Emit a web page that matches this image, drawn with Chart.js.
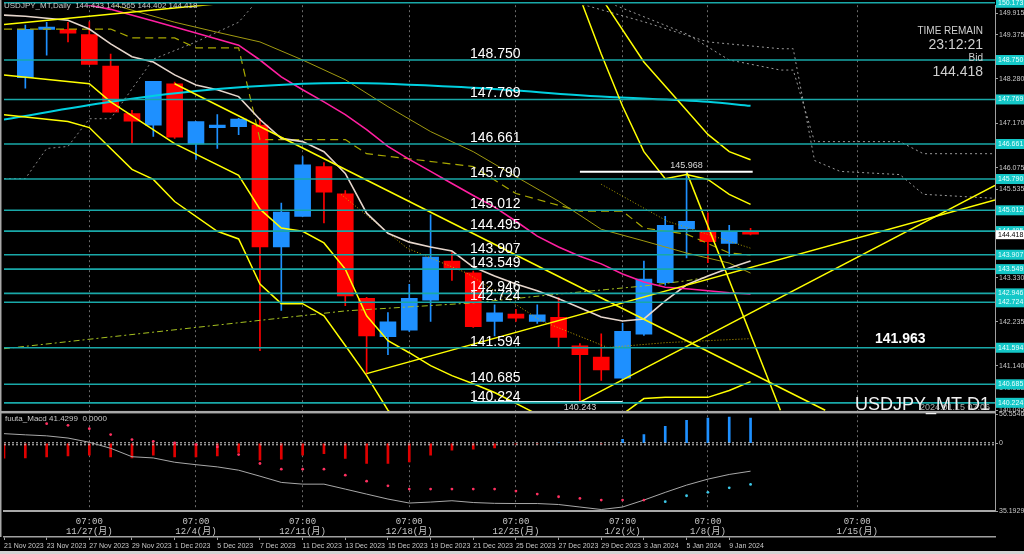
<!DOCTYPE html>
<html>
<head>
<meta charset="utf-8">
<script src="https://cdn.jsdelivr.net/npm/chart.js@4"></script>
<style>
  html, body { margin: 0; padding: 0; background: #000; overflow: hidden; }
</style>
</head>
<body>
<canvas id="chart" width="1024" height="554"></canvas>
<script>
// USDJPY_MT Daily, 21 Nov 2023 .. 10 Jan 2024 (first bar off screen)
const DATES = ['21 Nov 2023', '22 Nov 2023', '23 Nov 2023', '24 Nov 2023', '27 Nov 2023', '28 Nov 2023',
  '29 Nov 2023', '30 Nov 2023', '1 Dec 2023', '4 Dec 2023', '5 Dec 2023', '6 Dec 2023', '7 Dec 2023',
  '8 Dec 2023', '11 Dec 2023', '12 Dec 2023', '13 Dec 2023', '14 Dec 2023', '15 Dec 2023', '18 Dec 2023',
  '19 Dec 2023', '20 Dec 2023', '21 Dec 2023', '22 Dec 2023', '25 Dec 2023', '26 Dec 2023', '27 Dec 2023',
  '28 Dec 2023', '29 Dec 2023', '2 Jan 2024', '3 Jan 2024', '4 Jan 2024', '5 Jan 2024', '8 Jan 2024',
  '9 Jan 2024', '10 Jan 2024']
const DATE_TICKS = [0, 2, 4, 6, 8, 10, 12, 14, 16, 18, 20, 22, 24, 26, 28, 30, 32, 34]
const WEEK_POS = [4, 9, 14, 19, 24, 29, 33, 40]
const WEEK_TEXT = ['11/27(月)', '12/4(月)', '12/11(月)', '12/18(月)', '12/25(月)', '1/2(火)', '1/8(月)', '1/15(月)']

const OPEN = [null, 148.31, 149.51, 149.51, 149.38, 148.60, 147.42, 147.13, 148.16, 146.66, 147.07, 147.09,
  147.13, 144.10, 144.86, 146.10, 145.42, 142.82, 141.87, 142.03, 142.78, 143.75, 143.46, 142.25, 142.43,
  142.25, 142.35, 141.64, 141.36, 140.84, 141.93, 143.21, 144.55, 144.49, 144.19, 144.433]
const HIGH = [null, 149.62, 149.69, 149.69, 149.70, 148.90, 147.50, 148.22, 148.20, 147.22, 147.39, 147.30,
  147.30, 145.19, 146.35, 146.20, 145.50, 142.85, 142.47, 143.17, 144.90, 143.96, 143.50, 142.66, 142.55,
  142.66, 142.84, 141.70, 141.94, 142.20, 143.75, 144.86, 145.968, 144.95, 144.64, 144.565]
const LOW = [null, 148.05, 148.87, 149.20, 148.64, 147.45, 146.68, 146.85, 146.80, 146.28, 146.55, 146.89,
  141.52, 142.52, 144.86, 144.70, 142.64, 140.94, 141.42, 142.00, 142.25, 143.27, 142.10, 141.89, 142.25,
  142.20, 141.60, 140.243, 140.78, 140.80, 141.90, 143.15, 143.83, 143.71, 143.87, 144.402]
const CLOSE = [null, 149.51, 149.57, 149.42, 148.64, 147.45, 147.23, 148.22, 146.83, 147.22, 147.13, 147.28,
  144.10, 144.97, 146.14, 145.46, 142.88, 141.89, 142.24, 142.82, 143.85, 143.57, 142.12, 142.46, 142.33,
  142.41, 141.85, 141.42, 141.04, 142.00, 143.30, 144.64, 144.74, 144.23, 144.49, 144.418]

// horizontal levels and price scale
const LEVELS = [150.173, 148.750, 147.769, 146.661, 145.790, 145.012, 144.495, 143.907, 143.549, 142.946,
  142.724, 141.594, 140.685, 140.224]
const Y_TICKS = [149.915, 149.375, 148.280, 147.170, 146.075, 145.535, 143.330, 142.235, 141.140, 140.585, 140.045]

// indicator lines [bar index, price]
const MA_WHITE = [149.865, 149.84, 149.79, 149.74, 149.52, 149.15, 148.83, 148.70, 148.38, 148.13, 148.01,
  147.84, 147.27, 146.80, 146.72, 146.47, 145.93, 144.94, 144.44, 144.22, 144.10, 144.00, 143.60, 143.38,
  143.18, 143.01, 142.81, 142.59, 142.36, 142.26, 142.31, 142.76, 143.16, 143.38, 143.58, 143.75]
const MA_CYAN = [[0, 147.27], [5, 147.71], [9, 147.98], [14, 148.16], [16, 148.18], [22, 148.06], [28, 147.84],
  [33, 147.71], [35, 147.61]]
const MA_PINK = [[0, 150.45], [3, 150.19], [4, 150.11], [5, 150.01], [7, 149.72], [9, 149.42], [11, 149.12],
  [12, 148.75], [13, 148.33], [14, 148.01], [15, 147.71], [16, 147.39], [17, 147.02], [18, 146.60],
  [19, 146.28], [20, 145.98], [21, 145.68], [22, 145.38], [23, 145.09], [24, 144.74], [25, 144.37],
  [26, 144.10], [27, 143.87], [28, 143.68], [29, 143.43], [30, 143.23], [31, 143.10], [32, 143.06],
  [33, 143.01], [34, 142.96], [35, 142.93]]
const MA_OLIVE = [[4, 150.3], [6, 149.99], [8, 149.69], [10, 149.44], [12, 149.20], [14, 148.75], [16, 148.26],
  [18, 147.59], [20, 146.97], [22, 146.47], [24, 145.85], [26, 145.24], [28, 144.54], [30, 144.25],
  [32, 143.95], [34, 143.70], [35, 143.45]]
const KIJUN = [[0, 149.52], [5, 149.52], [6, 149.30], [8, 149.30], [9, 149.05], [11, 149.05], [12, 146.77],
  [16, 146.77], [17, 146.42], [22, 146.10], [24, 145.43], [27, 144.99], [29, 144.99], [30, 144.57],
  [32, 144.42], [34, 143.95], [35, 143.90]]
const MA_LONG = [[0, 141.57], [16, 142.51], [22, 142.71], [26, 142.93], [30, 143.13], [32, 143.26], [33, 143.35]]
const DOTTED_LOW = [[15.8, 145.41], [18.9, 144.07], [21.7, 143.45], [25.2, 142.26], [28.3, 141.60], [31, 141.72],
  [35, 141.82]]
const DOTTED_HIGH = [[28, 145.66], [31.1, 144.74], [35, 144.07]]
const BAND_A = [[0, 148.38], [4, 148.16], [5, 147.71], [8, 146.67], [11, 145.88], [12, 145.04], [13, 144.57],
  [14, 144.49], [15, 144.20], [16, 143.55], [17, 142.39], [18, 141.77], [19, 141.47], [20, 141.15],
  [21, 140.90], [22, 140.70], [23, 140.48], [24, 140.21], [25, 139.94], [29, 139.94], [30, 140.33],
  [31, 140.36], [32, 140.36], [33, 140.36], [34, 140.53], [35, 140.75]]
const BAND_B = [[0, 147.39], [3, 147.22], [4, 147.07], [6, 146.03], [7, 145.78], [8, 145.23], [10, 144.49],
  [11, 144.30], [12, 143.18], [13, 142.69], [14, 142.69], [15, 142.39], [16, 141.65], [17, 140.90],
  [18, 140.04], [19, 139.54]]
const BAND_C = [[27, 150.3], [28, 148.9], [29, 147.6], [30, 146.47], [31, 145.80], [32, 145.90], [33, 145.78],
  [34, 145.41], [35, 145.16]]
const BAND_D = [[28, 150.3], [30, 148.7], [32, 147.5], [33, 146.9], [34, 146.47], [35, 146.27]]
const SPAN_A = [[26, 150.3], [30, 149.7], [33, 149.2], [36.4, 149.03], [37, 149.03], [38, 146.25], [39.2, 145.98],
  [42, 145.90], [43.1, 145.41], [46.46, 145.31]]
const SPAN_B = [[28, 150.25], [32, 149.4], [34, 148.75], [36.4, 148.50], [37, 148.50], [38, 146.72], [42, 146.72],
  [43.1, 146.42], [46.46, 146.42]]
const SPAN_LEFT = [[0, 145.80], [1, 145.80], [2, 146.55], [3, 146.60], [4, 147.29], [5, 147.29], [7, 148.77],
  [9, 149.20], [11, 149.69], [12, 150.3]]

// trend lines
const TRENDS = [
  [[0, 149.63], [12, 150.25]],
  [[8, 148.16], [38.5, 140.04]],
  [[32, 145.968], [36.4, 140.04]],
  [[17, 140.95], [46.46, 145.27]],
  [[27, 140.243], [46.46, 145.63]],
]
const HIGH_LINE = [[27, 145.968], [35.1, 145.968]]
const LOW_LINE = [[22, 140.243], [29, 140.243]]

// MACD sub window
const MACD_HIST = [-29.3, -28.7, -26.7, -24.8, -23.4, -26.7, -28.7, -23.4, -26.7, -26.7, -24.8, -18.1, -33.2,
  -31.2, -23.4, -20.1, -29.8, -39.6, -39.6, -36.5, -23.4, -13.7, -11.7, -9.2, -1.5, -1.0, 1.0, 1.0, -1.0,
  7.8, 17.0, 33.2, 44.9, 49.3, 51.3, 49.3]
const MACD_SIGNAL = [18.9, 16.6, 14.6, 10.3, 2.0, -9.8, -26.3, -28.7, -37.1, -41.9, -46.2, -52.7, -64.4,
  -76.6, -80.0, -80.0, -89.7, -99.5, -109.2, -117.0, -115.1, -112.5, -116.0, -117.6, -118.0, -118.0,
  -119.9, -124.8, -129.7, -124.8, -111.2, -96.1, -81.9, -70.2, -61.0, -54.6]
const MACD_DOTS = [null, null, 38.4, 35.1, 28.6, 17.0, 7.2, 3.9, 0.6, -2.5, -7.2, -22.0, -39.6, -50.7, -50.7,
  -50.7, -62.4, -74.1, -83.2, -89.7, -89.7, -89.7, -89.7, -89.7, -93.6, -99.5, -104.7, -107.9, -111.2,
  -111.2, -111.2, -114.4, -102.7, -96.1, -87.2, -80.5]
const MACD_TICKS = [56.5546, 0, -132.6]
const MACD_TICK_TEXT = ['56.5546', '0', '35.1929']

const X_MAX = 46.46
const SANS = "'Liberation Sans', Arial, sans-serif"
const MONO = "'Liberation Mono', 'Noto Sans CJK JP', monospace"
const UP = "#1e90ff"
const DOWN = "#ff0000"

const pts = (arr) => arr.map(([x, y]) => ({ x, y }))
const idx = DATES.map((d, i) => i).filter((i) => OPEN[i] !== null)
const candleColor = idx.map((i) => (CLOSE[i] >= OPEN[i] ? UP : DOWN))

function line(data, color, width, extra) {
  return Object.assign({
    type: "line", data, borderColor: color, borderWidth: width, pointRadius: 0,
    yAxisID: "y", xAxisID: "x", order: 5, tension: 0,
  }, extra || {})
}

const datasets = []

// level lines on top
LEVELS.forEach((v) => {
  datasets.push(line([{ x: 0, y: v }, { x: X_MAX, y: v }], "#19a8a8", 1.6, { order: 0, clip: false }))
})
datasets.push(line(pts(HIGH_LINE), "#ffffff", 2, { order: 1 }))
datasets.push(line(pts(LOW_LINE), "#cfeff5", 2, { order: 1 }))
TRENDS.forEach((t) => datasets.push(line(pts(t), "#ffff00", 1.5, { order: 2 })))
datasets.push(line(pts(BAND_A), "#ffff00", 1.5, { order: 3 }))
datasets.push(line(pts(BAND_B), "#ffff00", 1.5, { order: 3 }))
datasets.push(line(pts(BAND_C), "#ffff00", 1.5, { order: 3 }))
datasets.push(line(pts(BAND_D), "#ffff00", 1.5, { order: 3 }))
datasets.push(line(pts(MA_CYAN), "#00d0e0", 2, { order: 4, cubicInterpolationMode: "monotone" }))
datasets.push(line(pts(MA_PINK), "#ff1fa0", 1.6, { order: 4 }))
datasets.push(line(MA_WHITE.map((y, x) => ({ x, y })), "#e6d6cc", 1.6, { order: 4 }))
datasets.push(line(pts(MA_OLIVE), "#a09a10", 1, { order: 5 }))
datasets.push(line(pts(KIJUN), "#a8a800", 1.2, { order: 5, borderDash: [8, 5] }))
datasets.push(line(pts(MA_LONG), "#a6c020", 1, { order: 5, borderDash: [6, 3, 2, 3] }))
datasets.push(line(pts(DOTTED_LOW), "#c8a800", 1, { order: 5, borderDash: [1, 2] }))
datasets.push(line(pts(DOTTED_HIGH), "#b0a000", 1, { order: 5, borderDash: [1, 2] }))
datasets.push(line(pts(SPAN_A), "#9a9a9a", 1, { order: 6, borderDash: [2, 3] }))
datasets.push(line(pts(SPAN_B), "#9a9a9a", 1, { order: 6, borderDash: [2, 3] }))
datasets.push(line(pts(SPAN_LEFT), "#8a8a8a", 1, { order: 6, borderDash: [2, 3] }))

// candles: wicks then bodies, drawn behind the lines
datasets.push({
  type: "bar", data: idx.map((i) => ({ x: i, y: [LOW[i], HIGH[i]] })), backgroundColor: candleColor,
  barThickness: 1, grouped: false, xAxisID: "x", yAxisID: "y", order: 9,
})
datasets.push({
  type: "bar", data: idx.map((i) => ({ x: i, y: [OPEN[i], CLOSE[i]] })), backgroundColor: candleColor,
  barThickness: 16, minBarLength: 2, grouped: false, xAxisID: "x", yAxisID: "y", order: 8,
})

// MACD
datasets.push(line([{ x: 0, y: 1.0 }, { x: X_MAX, y: 1.0 }], "#d0d0d0", 1, { yAxisID: "y2", borderDash: [2, 2], order: 3 }))
datasets.push(line([{ x: 0, y: -2.9 }, { x: X_MAX, y: -2.9 }], "#d0d0d0", 1, { yAxisID: "y2", borderDash: [2, 2], order: 3 }))
datasets.push({
  type: "bar", data: MACD_HIST.map((y, x) => ({ x, y })), backgroundColor: MACD_HIST.map((v) => (v >= 0 ? UP : "#e00000")),
  barThickness: 2, grouped: false, xAxisID: "x", yAxisID: "y2", order: 4,
})
datasets.push(line(MACD_SIGNAL.map((y, x) => ({ x, y })), "#a8a8a8", 1, { yAxisID: "y2", order: 2 }))
datasets.push(line(MACD_DOTS.map((y, x) => ({ x, y })), "transparent", 0, {
  yAxisID: "y2", order: 1, showLine: false, pointRadius: 1.4, pointBorderWidth: 0,
  pointBackgroundColor: MACD_DOTS.map((v, i) => (i > 30 ? "#3cc8e8" : "#ff3060")),
}))

const overlay = {
  id: "overlay",
  beforeDraw(chart) {
    const ctx = chart.ctx
    ctx.save()
    ctx.fillStyle = "#000"
    ctx.fillRect(0, 0, chart.width, chart.height)
    ctx.restore()
  },
  afterDraw(chart) {
    const ctx = chart.ctx
    const y = chart.scales.y
    const x = chart.scales.x
    const area = chart.chartArea
    ctx.save()

    // panel frames
    ctx.fillStyle = "#a8a8a8"
    ctx.fillRect(0, y.bottom - 0.5, area.right, 2.5)
    ctx.fillRect(0, 0, 1.5, 537)
    ctx.fillStyle = "#d4d4d4"
    ctx.fillRect(0, 551, chart.width, 3)

    // level labels on the chart
    ctx.fillStyle = "#ffffff"
    ctx.font = "14px " + SANS
    ctx.textAlign = "left"
    ctx.textBaseline = "alphabetic"
    LEVELS.slice(1).forEach((v) => ctx.fillText(v.toFixed(3), 470, y.getPixelForValue(v) - 2))

    ctx.font = "bold 14px " + SANS
    ctx.fillText("141.963", 875, 343)

    // right side level boxes
    ctx.font = "7px " + SANS
    ctx.textAlign = "left"
    ctx.textBaseline = "middle"
    LEVELS.forEach((v) => {
      const py = y.getPixelForValue(v)
      ctx.fillStyle = "#14c8c8"
      ctx.fillRect(996, py - 5, 28, 10)
      ctx.fillStyle = "#e8ffff"
      ctx.fillText(v.toFixed(3), 998, py)
    })
    const bid = CLOSE[CLOSE.length - 1]
    const by = y.getPixelForValue(bid)
    ctx.fillStyle = "#ffffff"
    ctx.fillRect(996, by - 4, 28, 9)
    ctx.fillStyle = "#000"
    ctx.fillText(bid.toFixed(3), 998, by + 0.5)

    // high / low marks
    ctx.fillStyle = "#d8d8d8"
    ctx.font = "9px " + SANS
    ctx.textAlign = "center"
    ctx.fillText("145.968", x.getPixelForValue(32), y.getPixelForValue(145.968) - 6)
    ctx.fillText("140.243", x.getPixelForValue(27), y.getPixelForValue(140.243) + 5)

    // headers
    ctx.textAlign = "left"
    ctx.fillStyle = "#c8c8c8"
    ctx.font = "8px " + SANS
    ctx.fillText("USDJPY_MT,Daily  144.433 144.565 144.402 144.418", 4, 6)
    ctx.fillText("fuuta_Macd 41.4299  0.0000", 5, 419)

    ctx.textAlign = "right"
    ctx.fillStyle = "#d0d0d0"
    ctx.font = "10px " + SANS
    ctx.fillText("TIME REMAIN", 983, 31)
    ctx.fillText("Bid", 983, 58)
    ctx.font = "14px " + SANS
    ctx.fillText("23:12:21", 983, 45)
    ctx.fillText("144.418", 983, 72)

    ctx.textBaseline = "alphabetic"
    ctx.fillStyle = "#f0f0f0"
    ctx.font = "18px " + SANS
    ctx.fillText("USDJPY_MT D1", 990, 410)
    ctx.fillStyle = "rgba(200,200,200,0.85)"
    ctx.font = "9px " + SANS
    ctx.fillText("2024.01.15 07:06", 990, 410)
    ctx.restore()
  },
}

new Chart(document.getElementById("chart"), {
  data: { datasets },
  plugins: [overlay],
  options: {
    responsive: false,
    animation: false,
    events: [],
    layout: { padding: { left: 3, top: 3, right: 0, bottom: 0 } },
    plugins: { legend: { display: false }, tooltip: { enabled: false } },
    scales: {
      x: {
        type: "linear", position: "bottom", weight: 1, min: 0, max: X_MAX, offset: false,
        afterBuildTicks: (s) => { s.ticks = DATE_TICKS.map((v) => ({ value: v })) },
        afterFit: (s) => { s.height = 17 },
        ticks: {
          callback: (v) => DATES[v], autoSkip: false, maxRotation: 0, align: "start",
          color: "#c8c8c8", font: { size: 7, family: SANS }, padding: 2,
        },
        grid: { drawOnChartArea: false, color: "#a0a0a0", tickLength: 3, offset: false },
        border: { color: "#a0a0a0", width: 1.5 },
      },
      x2: {
        type: "linear", position: "bottom", weight: 0, min: 0, max: X_MAX, offset: false,
        afterBuildTicks: (s) => { s.ticks = WEEK_POS.map((v) => ({ value: v })) },
        afterFit: (s) => { s.height = 26 },
        ticks: {
          callback: (v, i) => ["07:00", WEEK_TEXT[i]], autoSkip: false, maxRotation: 0,
          color: "#c8c8c8", font: { size: 9, family: MONO, lineHeight: 1.15 }, padding: 5,
        },
        grid: { drawOnChartArea: true, drawTicks: false, color: "#6a6a6a", offset: false },
        border: { color: "#a8a8a8", width: 2, dash: [2, 3] },
      },
      y: {
        type: "linear", position: "right", stack: "panes", stackWeight: 408, weight: 0,
        min: 140.01, max: 150.113,
        afterBuildTicks: (s) => { s.ticks = Y_TICKS.map((v) => ({ value: v })) },
        afterFit: (s) => { s.width = 29 },
        ticks: {
          callback: (v) => v.toFixed(3), autoSkip: false, color: "#c8c8c8",
          font: { size: 7, family: SANS }, padding: 1,
        },
        grid: { drawOnChartArea: false, color: "#a0a0a0", tickLength: 3 },
        border: { color: "#a0a0a0" },
      },
      y2: {
        type: "linear", position: "right", stack: "panes", stackWeight: 100, weight: 0,
        min: -132.6, max: 62.4,
        afterBuildTicks: (s) => { s.ticks = MACD_TICKS.map((v) => ({ value: v })) },
        afterFit: (s) => { s.width = 29 },
        ticks: {
          callback: (v, i) => MACD_TICK_TEXT[i], autoSkip: false, color: "#c8c8c8",
          font: { size: 7, family: SANS }, padding: 1,
        },
        grid: { drawOnChartArea: false, color: "#a0a0a0", tickLength: 3 },
        border: { color: "#a0a0a0" },
      },
    },
  },
})
</script>
</body>
</html>
